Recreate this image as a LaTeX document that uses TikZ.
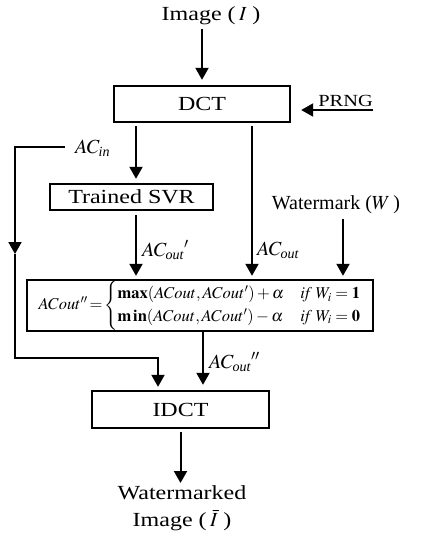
\documentclass[tikz,border=0pt]{standalone}
\usepackage{amsmath}
\usepackage{mathptmx}
\usepackage{fontspec}
\setmainfont{Liberation Serif}
\newfontfamily\widefont{Liberation Serif}[FakeStretch=1.2]
\usetikzlibrary{arrows.meta}
\newcommand\mysub[1]{_{\text{\fontsize{14}{14}\selectfont\itshape #1}}}

\begin{document}
\begin{tikzpicture}[
  x=1pt,
  y=-1pt,
  mybox/.style={
    draw,
    line width=2.4pt,
    inner sep=0pt,
    font=\widefont\fontsize{20}{22}\selectfont
  },
  mytext/.style={
    inner sep=0pt,
    align=center,
    font=\widefont\fontsize{20}{25}\selectfont
  },
  mylabel/.style={
    inner sep=0pt,
    anchor=west,
    font=\fontsize{20}{22}\selectfont
  },
  myarrow/.style={
    line width=2pt,
    -{Triangle[length=12pt,width=13pt]}
  }
]
\useasboundingbox (0,0) rectangle (431,533);
% columns of the vertical connectors
\coordinate (c1) at (136,0);
\coordinate (c2) at (252,0);
\coordinate (c3) at (343,0);
\coordinate (c4) at (203,0);
\coordinate (c5) at (158,0);
% blocks
\node[mytext] (img) at (211,16) {Image (\,$I$\;)};
\node[mybox, minimum width=176, minimum height=36] (dct) at (202,104) {DCT};
\node[mybox, minimum width=163, minimum height=26] (svr) at (131.5,197) {Trained SVR};
\node[mytext, font=\fontsize{20}{22}\selectfont] (wm) at (336,205) {Watermark ($W$\,)};
\node[mybox, minimum width=346, minimum height=51,
  font=\fontsize{16.5}{19}\selectfont] (form) at (200,305.5)
  {$ACout''\!=\!\begin{cases}
    \mathbf{max}(ACout, ACout')+\alpha & \mathit{if}\; W_i=\mathbf{1}\\
    \mathbf{m\,in}(ACout, ACout')-\alpha & \mathit{if}\; W_i=\mathbf{0}
  \end{cases}$};
\node[mybox, minimum width=177, minimum height=37] (idct) at (180.5,409.5) {IDCT};
\node[mytext, anchor=north, font=\widefont\fontsize{20}{27}\selectfont] (out) at (182,485)
  {Watermarked\\Image (\,$\bar{I}$\;)};
% PRNG input
\coordinate (prngin) at (373,110);
\node[inner sep=0pt, anchor=base east, font=\widefont\fontsize{17}{19}\selectfont] (prng) at (373,106) {PRNG};
\draw[myarrow, shorten >=10pt] (prngin) -- (prngin -| dct.east);
% AC_in loop
\coordinate (acin) at (65,147);
\coordinate (lmid) at (15,254);
\coordinate (lbot) at (15,358);
\draw[myarrow] (acin) -| (lmid);
\draw[myarrow, shorten >=3pt] (lmid) -- (lbot) -| (idct.north -| c5);
% connectors
\draw[myarrow, shorten <=4pt, shorten >=5pt] (img.south -| dct.north) -- (dct.north);
\draw[myarrow, shorten <=3pt, shorten >=4pt] (dct.south -| c1) -- (svr.north -| c1);
\draw[myarrow, shorten <=4pt, shorten >=3pt] (svr.south -| c1) -- (form.north -| c1);
\draw[myarrow, shorten <=3pt, shorten >=3pt] (dct.south -| c2) -- (form.north -| c2);
\draw[myarrow, shorten <=5pt, shorten >=3pt] (wm.south -| c3) -- (form.north -| c3);
\draw[myarrow, shorten >=5pt] (form.south -| c4) -- (idct.north -| c4);
\draw[myarrow, shorten <=3pt, shorten >=2pt] (idct.south) -- (idct.south |- out.north);
% labels
\node[mylabel] (lin) at (75,148) {$AC\mysub{in}$};
\node[mylabel] (lout1) at (142,250) {$AC\mysub{out}{}'$};
\node[mylabel] (lout) at (257,250) {$AC\mysub{out}$};
\node[mylabel] (lout2) at (209,362) {$AC\mysub{out}{}''$};
\end{tikzpicture}
\end{document}
